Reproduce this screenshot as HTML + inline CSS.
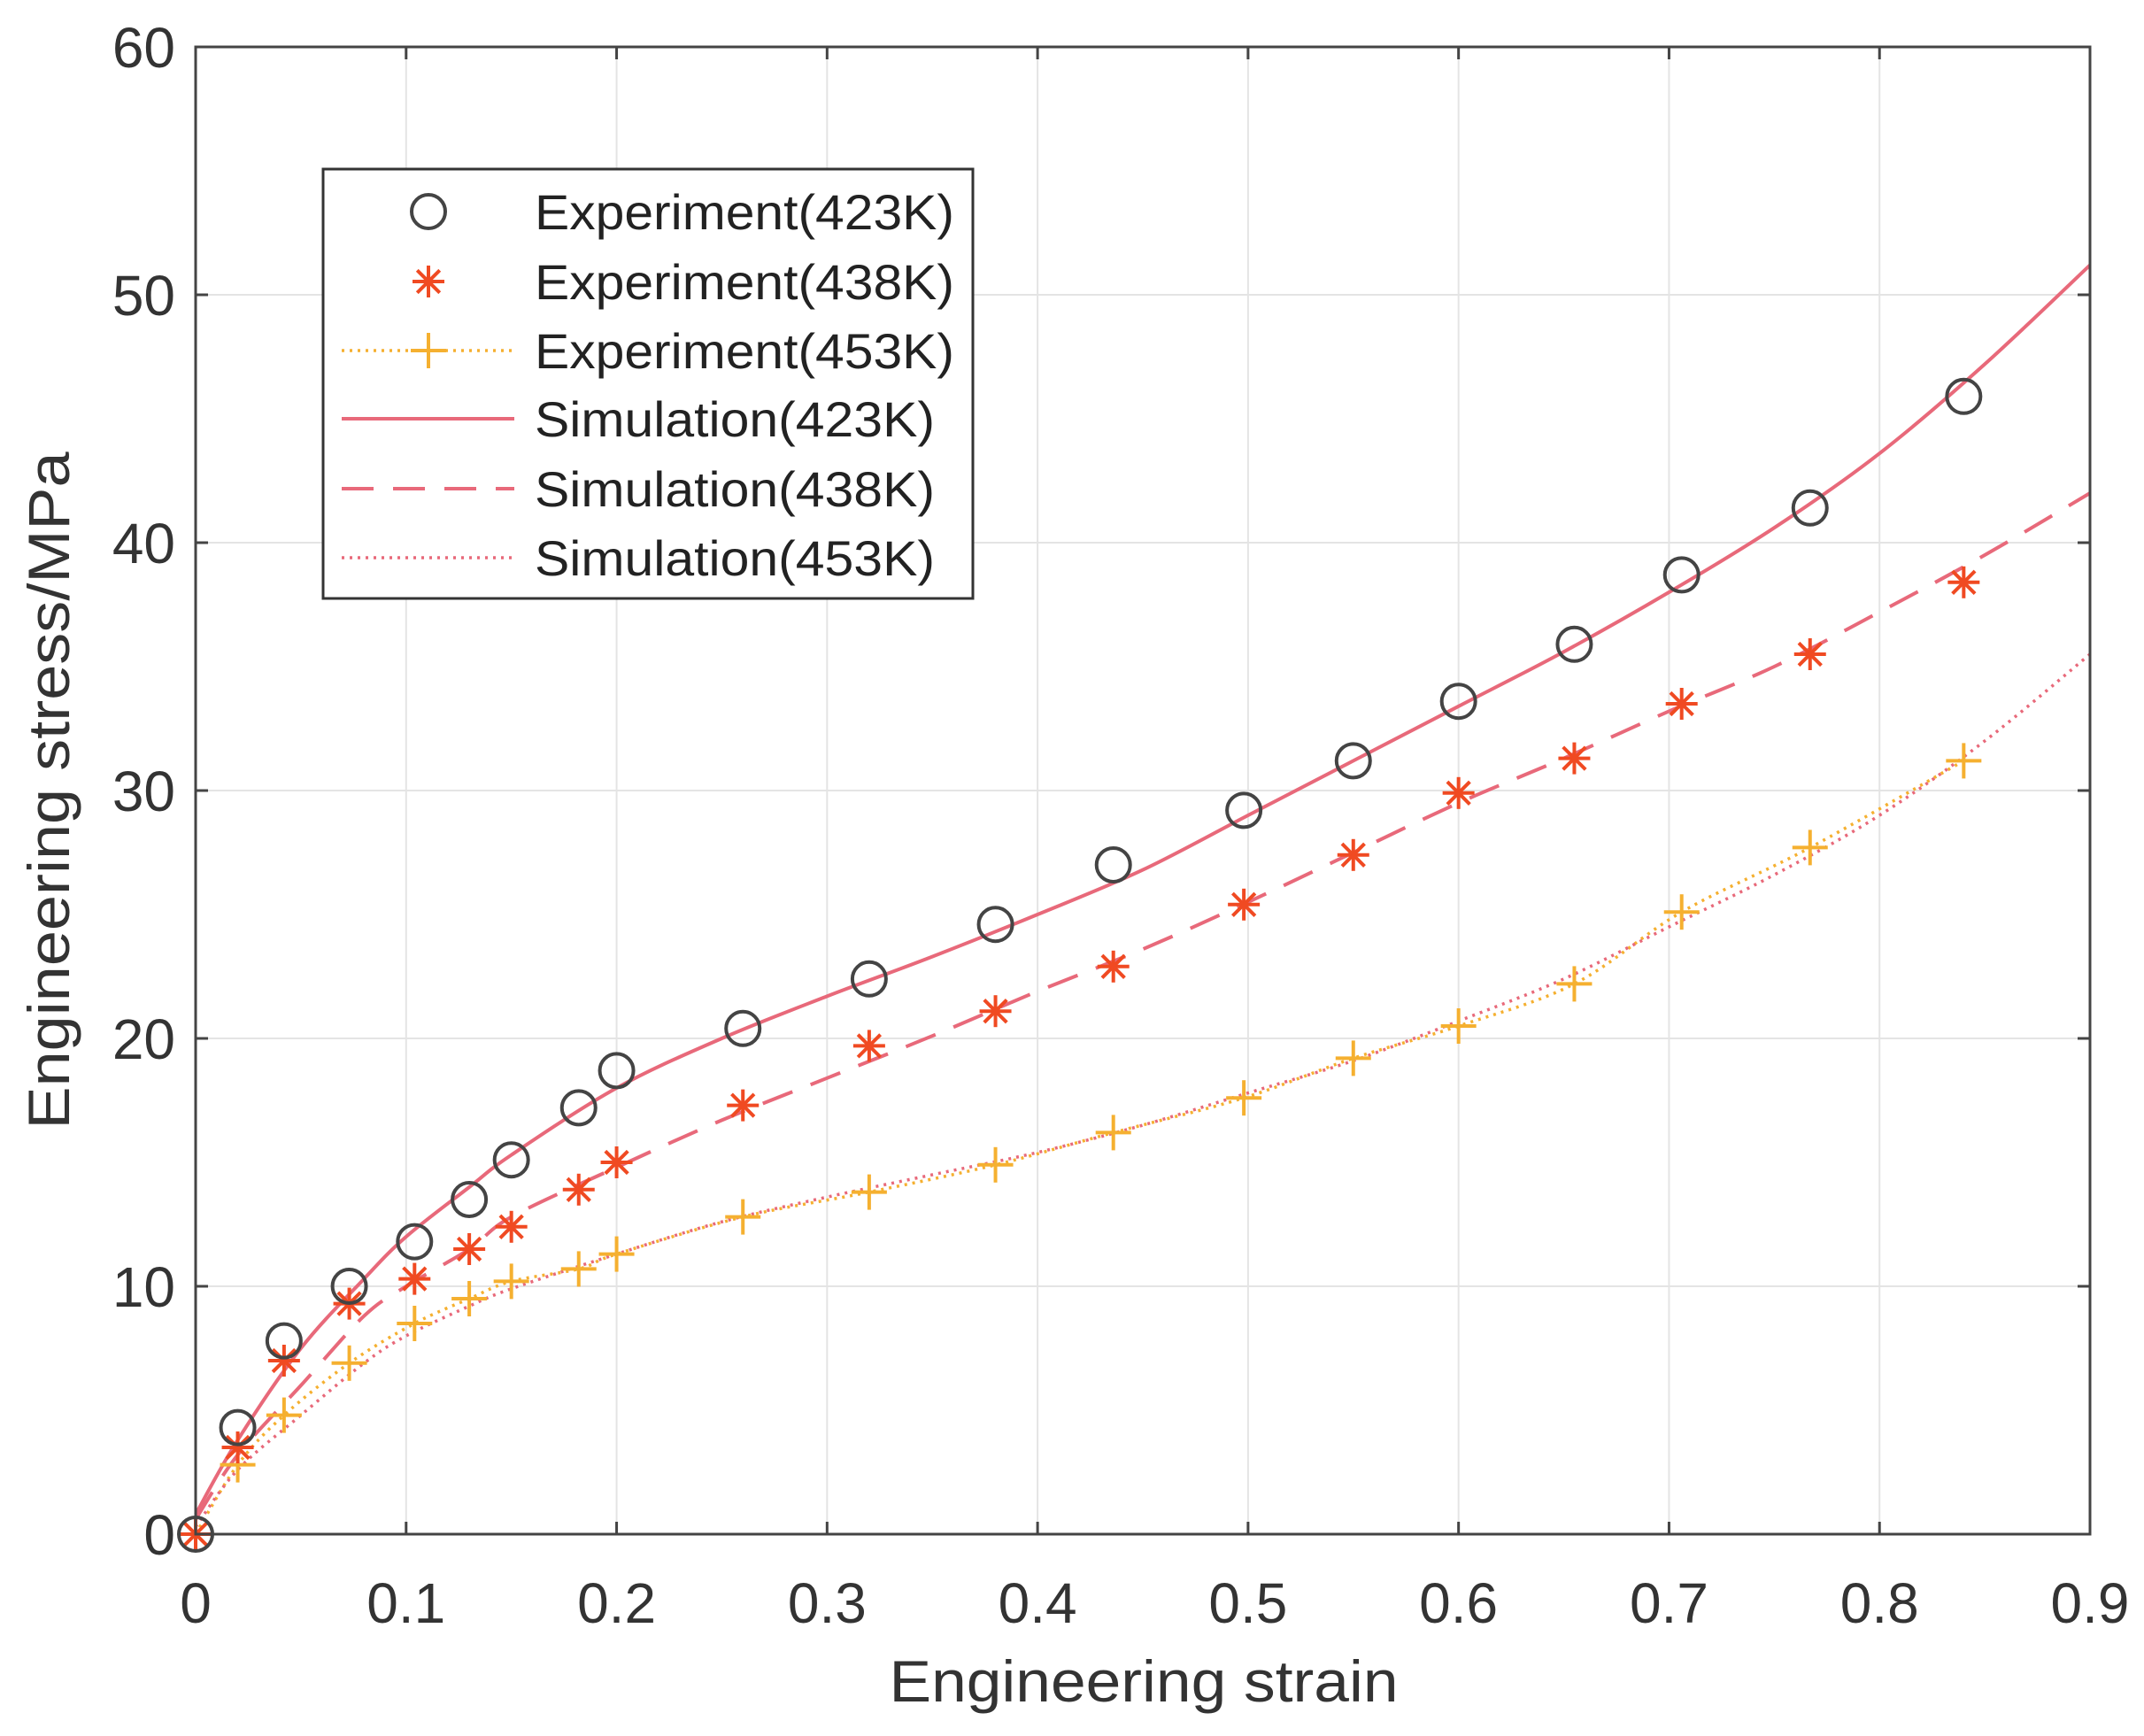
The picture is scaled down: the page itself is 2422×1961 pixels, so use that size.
<!DOCTYPE html>
<html><head><meta charset="utf-8"><style>
html,body{margin:0;padding:0;background:#fff}
svg{display:block;font-family:"Liberation Sans",Arial,sans-serif}
</style></head><body>
<svg id="chart" width="2422" height="1961" viewBox="0 0 2422 1961" xmlns="http://www.w3.org/2000/svg">
<rect x="0" y="0" width="2422" height="1961" fill="#fff"/>
<g id="grid"></g>
<g id="series"></g>
<g id="axes"></g>
<g id="legend"></g>
<text x="1292" y="1922" font-size="66" text-anchor="middle" fill="#333" textLength="575" lengthAdjust="spacingAndGlyphs">Engineering strain</text>
<text x="0" y="0" font-size="66" text-anchor="middle" fill="#333" transform="translate(78,893) rotate(-90)" textLength="765" lengthAdjust="spacingAndGlyphs">Engineering stress/MPa</text>
</svg>
<script>
const xTicks=[0,0.1,0.2,0.3,0.4,0.5,0.6,0.7,0.8,0.9];
const xTickLabels=["0","0.1","0.2","0.3","0.4","0.5","0.6","0.7","0.8","0.9"];
const yTicks=[0,10,20,30,40,50,60];
const yTickLabels=["0","10","20","30","40","50","60"];
const expStrain=[0,0.02,0.042,0.073,0.104,0.13,0.15,0.182,0.2,0.26,0.32,0.38,0.436,0.498,0.55,0.6,0.655,0.706,0.767,0.84];
const exp423=[0,4.3,7.8,10,11.8,13.5,15.1,17.2,18.7,20.4,22.4,24.6,27,29.2,31.2,33.6,35.9,38.7,41.4,45.9];
const exp438=[0,3.5,7,9.3,10.3,11.5,12.4,13.9,15,17.3,19.7,21.1,22.9,25.4,27.4,29.9,31.3,33.5,35.5,38.4];
const exp453=[0,2.8,4.8,6.9,8.5,9.5,10.2,10.7,11.3,12.8,13.8,14.9,16.2,17.6,19.2,20.5,22.2,25.1,27.7,31.2];
const simStrain=[0,0.02,0.05,0.08,0.1,0.13,0.15,0.2,0.25,0.3,0.35,0.4,0.45,0.5,0.55,0.6,0.65,0.7,0.75,0.8,0.85,0.9];
const sim423=[0.8,3.8,7.5,10.3,12,14,15.3,18,20,21.7,23.3,25,26.8,29,31.2,33.4,35.6,38,40.6,43.6,47.2,51.2];
const sim438=[0.6,3.2,6,8.8,10,11.5,12.8,14.8,16.7,18.4,20.1,21.9,23.6,25.5,27.5,29.5,31.3,33.2,35,37.2,39.5,42];
const sim453=[0.3,2.6,4.8,6.9,8,9.2,9.9,11.3,12.6,13.6,14.5,15.4,16.5,17.8,19.1,20.7,22.4,24.5,26.6,29,32,35.5];

const L=221,R=2361,T=53,B=1733;
const sx=v=>L+(v-0)/(0.9-0)*(R-L);
const sy=v=>B-(v-0)/(60-0)*(B-T);
const NS="http://www.w3.org/2000/svg";
function mk(tag,parent,attrs){const e=document.createElementNS(NS,tag);for(const k in attrs)e.setAttribute(k,attrs[k]);parent.appendChild(e);return e;}
const grid=document.getElementById('grid'),axes=document.getElementById('axes'),series=document.getElementById('series'),legend=document.getElementById('legend');

xTicks.forEach((t,i)=>{
  const x=sx(t);
  if(i>0&&i<xTicks.length-1){const g=mk('line',grid,{x1:x,x2:x,y1:T,y2:B,stroke:'#e4e4e4','stroke-width':2});
  
  }
  const tk=mk('line',axes,{x1:x,x2:x,y1:B,y2:B-14,stroke:'#444','stroke-width':3});
  
  
  const tk2=mk('line',axes,{x1:x,x2:x,y1:T,y2:T+14,stroke:'#444','stroke-width':3});
  
  
  const tl=mk('text',axes,{x:x,y:1833,'font-size':64,'text-anchor':'middle',fill:'#333'});
  tl.textContent=xTickLabels[i];
  
  
});
yTicks.forEach((t,i)=>{
  const y=sy(t);
  if(i>0&&i<yTicks.length-1){const g=mk('line',grid,{x1:L,x2:R,y1:y,y2:y,stroke:'#e4e4e4','stroke-width':2});
  
  }
  const tk=mk('line',axes,{x1:L,x2:L+14,y1:y,y2:y,stroke:'#444','stroke-width':3});
  
  
  const tk2=mk('line',axes,{x1:R,x2:R-14,y1:y,y2:y,stroke:'#444','stroke-width':3});
  
  
  const tl=mk('text',axes,{x:198,y:y+23,'font-size':64,'text-anchor':'end',fill:'#333'});
  tl.textContent=yTickLabels[i];
  
  
});
const box=mk('rect',axes,{x:L,y:T,width:R-L,height:B-T,fill:'none',stroke:'#444','stroke-width':3});



const SIM='#e8697a';
function path(xs,ys){
  const P=xs.map((x,i)=>[sx(x),sy(ys[i])]);
  let d='M'+P[0][0].toFixed(1)+' '+P[0][1].toFixed(1);
  for(let i=0;i<P.length-1;i++){
    const p0=P[Math.max(0,i-1)],p1=P[i],p2=P[i+1],p3=P[Math.min(P.length-1,i+2)];
    const c1=[p1[0]+(p2[0]-p0[0])/6,p1[1]+(p2[1]-p0[1])/6];
    const c2=[p2[0]-(p3[0]-p1[0])/6,p2[1]-(p3[1]-p1[1])/6];
    d+=' C'+c1[0].toFixed(1)+' '+c1[1].toFixed(1)+' '+c2[0].toFixed(1)+' '+c2[1].toFixed(1)+' '+p2[0].toFixed(1)+' '+p2[1].toFixed(1);
  }
  return d;
}
let p;
p=mk('path',series,{d:path(expStrain,exp453),fill:'none',stroke:'#f5b030','stroke-width':3.5,'stroke-dasharray':'3 6'});


p=mk('path',series,{d:path(simStrain,sim423),fill:'none',stroke:SIM,'stroke-width':4});


p=mk('path',series,{d:path(simStrain,sim438),fill:'none',stroke:SIM,'stroke-width':4,'stroke-dasharray':'36 22'});


p=mk('path',series,{d:path(simStrain,sim453),fill:'none',stroke:SIM,'stroke-width':3.5,'stroke-dasharray':'3 6'});



function circle(parent,x,y){return mk('circle',parent,{cx:x,cy:y,r:19,fill:'none',stroke:'#444','stroke-width':4});}
function star(parent,x,y){const g=mk('g',parent,{stroke:'#f04a22','stroke-width':4});const r=18;
  mk('line',g,{x1:x-r,x2:x+r,y1:y,y2:y});mk('line',g,{x1:x,x2:x,y1:y-r,y2:y+r});
  const d=r*0.707;mk('line',g,{x1:x-d,x2:x+d,y1:y-d,y2:y+d});mk('line',g,{x1:x-d,x2:x+d,y1:y+d,y2:y-d});return g;}
function plus(parent,x,y){const g=mk('g',parent,{stroke:'#f5b030','stroke-width':4});const r=20;
  mk('line',g,{x1:x-r,x2:x+r,y1:y,y2:y});mk('line',g,{x1:x,x2:x,y1:y-r,y2:y+r});return g;}

expStrain.forEach((s,i)=>{
  let m=plus(series,sx(s),sy(exp453[i]));
  
  
});
expStrain.forEach((s,i)=>{
  let m=star(series,sx(s),sy(exp438[i]));
  
  
});
expStrain.forEach((s,i)=>{
  let m=circle(series,sx(s),sy(exp423[i]));
  
  
});

const lb=mk('rect',legend,{x:365,y:191,width:734,height:485,fill:'#fff',stroke:'#333','stroke-width':3});


const labels=["Experiment(423K)","Experiment(438K)","Experiment(453K)","Simulation(423K)","Simulation(438K)","Simulation(453K)"];
const rows=[239,318,396,473,552,630];
rows.forEach((y,i)=>{
  const g=mk('g',legend,{});
  
  
  if(i===0)circle(g,484,y);
  if(i===1)star(g,484,y);
  if(i===2){mk('line',g,{x1:386,x2:581,y1:y,y2:y,stroke:'#f5b030','stroke-width':3.5,'stroke-dasharray':'3 6'});plus(g,484,y);}
  if(i===3)mk('line',g,{x1:386,x2:581,y1:y,y2:y,stroke:SIM,'stroke-width':4});
  if(i===4)mk('line',g,{x1:386,x2:581,y1:y,y2:y,stroke:SIM,'stroke-width':4,'stroke-dasharray':'36 22'});
  if(i===5)mk('line',g,{x1:386,x2:581,y1:y,y2:y,stroke:SIM,'stroke-width':3.5,'stroke-dasharray':'3 6'});
  const t=mk('text',g,{x:604,y:y+20,'font-size':56,fill:'#222',textLength:i<3?474:452,lengthAdjust:'spacingAndGlyphs'});
  t.textContent=labels[i];
});
</script>
</body></html>
